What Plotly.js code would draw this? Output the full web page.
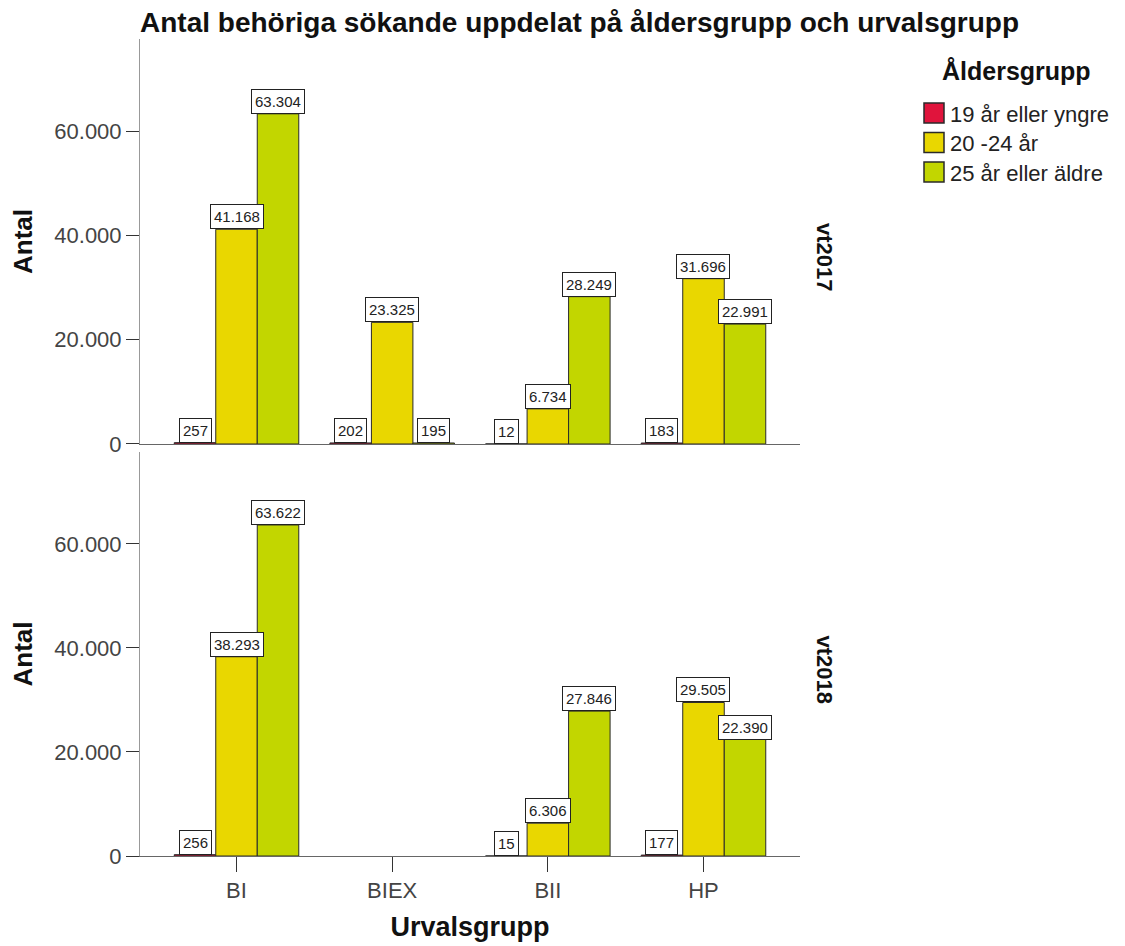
<!DOCTYPE html>
<html>
<head>
<meta charset="utf-8">
<script src="https://cdn.plot.ly/plotly-3.0.1.min.js"></script>
<style>html,body{margin:0;padding:0;background:#fff;}#chart{width:1125px;height:946px;}</style>
</head>
<body>
<div id="chart"></div>
<script>
var categories = ["BI", "BIEX", "BII", "HP"];
var seriesNames = ["19 år eller yngre", "20 -24 år", "25 år eller äldre"];
var seriesColors = ["#e0143c", "#e9d700", "#c2d600"];
var panels = ["vt2017", "vt2018"];
var vt2017_19 = [257, 202, 12, 183];
var vt2017_20 = [41168, 23325, 6734, 31696];
var vt2017_25 = [63304, 195, 28249, 22991];
var vt2018_19 = [256, null, 15, 177];
var vt2018_20 = [38293, null, 6306, 29505];
var vt2018_25 = [63622, null, 27846, 22390];
var yTickVals = [0, 20000, 40000, 60000];

var font = "Liberation Sans, Arial, sans-serif";
var dataSets = {
  vt2017: [vt2017_19, vt2017_20, vt2017_25],
  vt2018: [vt2018_19, vt2018_20, vt2018_25]
};
function fmt(v) { return String(v).replace(/\B(?=(\d{3})+(?!\d))/g, "."); }

// plot area in pixels (for placing layout elements outside the axes)
var M = { l: 140, r: 325, t: 39, b: 90 };
var W = 1125, H = 946;
var PW = W - M.l - M.r, PH = H - M.t - M.b;
function px(x) { return (x - M.l) / PW; }
function py(y) { return (H - M.b - y) / PH; }

var traces = [];
var annotations = [];
var shapes = [];
var barW = 0.8 / 3;
panels.forEach(function (p, pi) {
  var xa = pi === 0 ? "x2" : "x";
  var ya = pi === 0 ? "y2" : "y";
  dataSets[p].forEach(function (vals, si) {
    traces.push({
      type: "bar",
      x: categories,
      y: vals,
      name: seriesNames[si],
      xaxis: xa, yaxis: ya,
      marker: { color: seriesColors[si], line: { color: "#2a2a2a", width: 1 } },
      showlegend: false,
      hoverinfo: "y"
    });
    vals.forEach(function (v, ci) {
      if (v === null) return;
      annotations.push({
        xref: xa, yref: ya,
        x: ci + (si - 1) * barW, y: v,
        yanchor: "bottom", xanchor: "center",
        text: fmt(v), showarrow: false,
        bgcolor: "#ffffff", bordercolor: "#222", borderwidth: 1, borderpad: 3,
        font: { family: font, size: 15, color: "#222" }
      });
    });
  });
});

var topDom = [0.5043, 1];
var botDom = [0, 0.4945];
panels.forEach(function (p, pi) {
  var dom = pi === 0 ? topDom : botDom;
  annotations.push({
    xref: "paper", yref: "paper", x: 1, xanchor: "left", xshift: 10,
    y: (dom[0] + dom[1]) / 2, yanchor: "middle", yshift: -16,
    text: "<b>" + p + "</b>", textangle: 90, showarrow: false,
    font: { family: font, size: 22, color: "#111" }
  });
});

// legend (drawn as layout items so swatch size and spacing match)
annotations.push({
  xref: "paper", yref: "paper", x: px(1016), y: py(71),
  xanchor: "center", yanchor: "middle", showarrow: false,
  text: "<b>Åldersgrupp</b>",
  font: { family: font, size: 25, color: "#111" }
});
seriesNames.forEach(function (n, si) {
  var cy = 113 + si * 29.5;
  shapes.push({
    type: "rect", xref: "paper", yref: "paper",
    x0: px(924), x1: px(944), y0: py(cy + 10), y1: py(cy - 10),
    fillcolor: seriesColors[si], line: { color: "#2a2a2a", width: 1.5 }
  });
  annotations.push({
    xref: "paper", yref: "paper", x: px(948), y: py(cy + 1),
    xanchor: "left", yanchor: "middle", showarrow: false,
    text: n, font: { family: font, size: 22, color: "#222" }
  });
});

var yRange = [0, 77650];
var yBase = {
  range: yRange, tickvals: yTickVals, tickformat: ",d",
  showgrid: false, zeroline: false,
  showline: true, linecolor: "#999", linewidth: 1,
  ticks: "outside", ticklen: 13, tickcolor: "#333",
  tickfont: { family: font, size: 22, color: "#444" },
  title: { text: "<b>Antal</b>", font: { family: font, size: 26, color: "#111" }, standoff: 14 }
};
var y1 = Object.assign({}, yBase, { domain: botDom, anchor: "x" });
var y2 = Object.assign({}, yBase, { domain: topDom, anchor: "x2" });

var xRange = [-0.62, 3.62];
var layout = {
  width: W, height: H,
  paper_bgcolor: "#fff", plot_bgcolor: "#fff",
  margin: M,
  separators: ",.",
  barmode: "group", bargap: 0.2, bargroupgap: 0,
  showlegend: false,
  title: {
    text: "<b>Antal behöriga sökande uppdelat på åldersgrupp och urvalsgrupp</b>",
    font: { family: font, size: 28, color: "#111" },
    xref: "paper", x: 0, xanchor: "left",
    yref: "container", y: 0.977, yanchor: "middle"
  },
  xaxis: {
    domain: [0, 1], anchor: "y", range: xRange, type: "category",
    showgrid: false, zeroline: false,
    showline: true, linecolor: "#666", linewidth: 1,
    ticks: "outside", ticklen: 15, tickcolor: "#333",
    tickfont: { family: font, size: 22, color: "#444" },
    title: { text: "<b>Urvalsgrupp</b>", font: { family: font, size: 27, color: "#111" }, standoff: 14 }
  },
  xaxis2: {
    domain: [0, 1], anchor: "y2", range: xRange, type: "category", matches: "x",
    showgrid: false, zeroline: false,
    showline: true, linecolor: "#666", linewidth: 1,
    ticks: "", showticklabels: false
  },
  yaxis: y1,
  yaxis2: y2,
  annotations: annotations,
  shapes: shapes
};

Plotly.newPlot("chart", traces, layout, { displayModeBar: false, staticPlot: true });
</script>
</body>
</html>
